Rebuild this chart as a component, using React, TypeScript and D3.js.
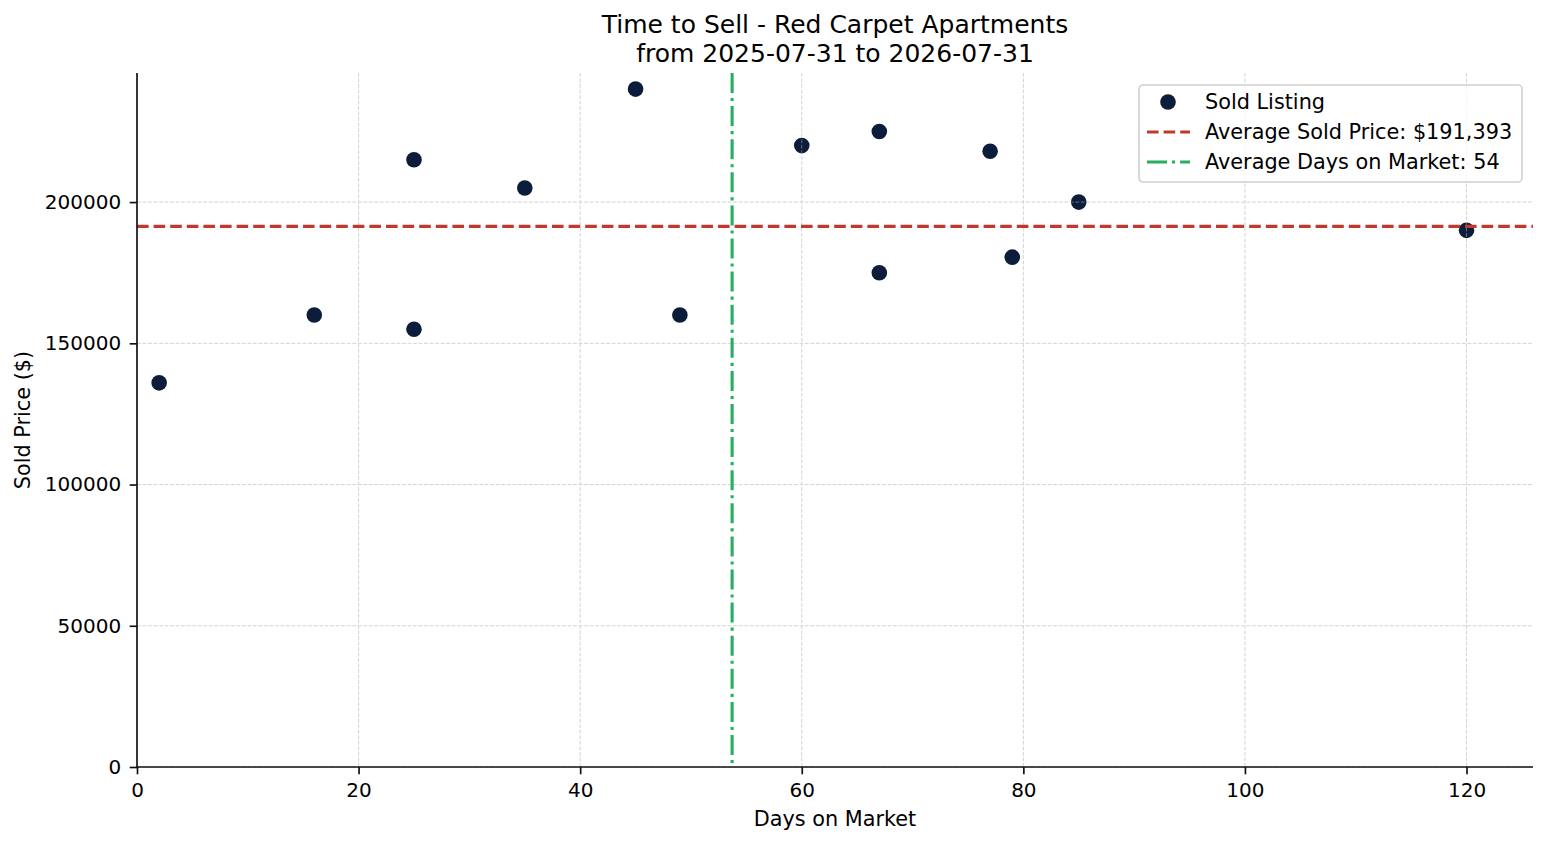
import React, { useEffect, useRef } from 'react';
import * as d3 from 'd3';

// Sold listings: days on market vs sold price
const daysOnMarket = [2, 16, 25, 25, 35, 45, 49, 60, 67, 67, 77, 79, 85, 120];
const soldPrices = [
  136000, 160000, 215000, 155000, 205000, 240000, 160000, 220000, 225000, 175000, 218000, 180500,
  200000, 190000,
];
const xTicks = [0, 20, 40, 60, 80, 100, 120];
const yTicks = [0, 50000, 100000, 150000, 200000];

const titleLines = ['Time to Sell - Red Carpet Apartments', 'from 2025-07-31 to 2026-07-31'];

const App: React.FC = () => {
  const svgRef = useRef<SVGSVGElement>(null);

  useEffect(() => {
    if (!svgRef.current) return;

    const width = 1547;
    const height = 845;
    const font = 'DejaVu Sans, sans-serif';
    const fs = 20.8; // 10pt at 150dpi
    const tickFs = 20;

    const svg = d3.select(svgRef.current).attr('width', width).attr('height', height);
    svg.selectAll('*').remove();

    const left = 137;
    const right = 1533;
    const top = 73;
    const bottom = 767;

    const x = d3.scaleLinear().domain([0, 126]).range([left, right]);
    const y = d3.scaleLinear().domain([0, 245700]).range([bottom, top]);

    const points = daysOnMarket.map((d, i) => ({ days: d, price: soldPrices[i] }));
    const avgPrice = d3.mean(soldPrices) as number;
    const avgDays = d3.mean(daysOnMarket) as number;

    const dashed = '11.6,5';
    const dashDot = '20,5,3.1,5';

    svg.append('rect').attr('width', width).attr('height', height).attr('fill', '#fff');

    // Scatter points
    svg
      .append('g')
      .selectAll('circle')
      .data(points)
      .enter()
      .append('circle')
      .attr('cx', (d) => x(d.days))
      .attr('cy', (d) => y(d.price))
      .attr('r', 7.8)
      .attr('fill', '#0b1d3a');

    // Grid (drawn over points, as in the reference)
    const grid = svg
      .append('g')
      .attr('stroke', '#b0b0b0')
      .attr('stroke-width', 1)
      .attr('stroke-dasharray', '3.85,1.67')
      .attr('opacity', 0.55);
    grid
      .selectAll('line.vx')
      .data(xTicks)
      .enter()
      .append('line')
      .attr('x1', (d) => x(d))
      .attr('x2', (d) => x(d))
      .attr('y1', top)
      .attr('y2', bottom);
    grid
      .selectAll('line.hy')
      .data(yTicks)
      .enter()
      .append('line')
      .attr('x1', left)
      .attr('x2', right)
      .attr('y1', (d) => y(d))
      .attr('y2', (d) => y(d));

    // Average lines
    svg
      .append('line')
      .attr('x1', left)
      .attr('x2', right)
      .attr('y1', y(avgPrice))
      .attr('y2', y(avgPrice))
      .attr('stroke', '#c0392b')
      .attr('stroke-width', 3.1)
      .attr('stroke-dasharray', dashed);
    svg
      .append('line')
      .attr('x1', x(avgDays))
      .attr('x2', x(avgDays))
      .attr('y1', top)
      .attr('y2', bottom)
      .attr('stroke', '#27ae60')
      .attr('stroke-width', 3.1)
      .attr('stroke-dasharray', dashDot);

    // Axes
    const xAxis = svg
      .append('g')
      .attr('transform', `translate(0,${bottom})`)
      .call(d3.axisBottom(x).tickValues(xTicks).tickSize(7.3).tickPadding(8.5).tickFormat(d3.format('d')));
    const yAxis = svg
      .append('g')
      .attr('transform', `translate(${left},0)`)
      .call(d3.axisLeft(y).tickValues(yTicks).tickSize(7.3).tickPadding(8.5).tickFormat(d3.format('d')));
    [xAxis, yAxis].forEach((ax) => {
      ax.select('.domain').attr('stroke', '#111').attr('stroke-width', 1.67);
      ax.selectAll('.tick line').attr('stroke', '#111').attr('stroke-width', 1.67);
      ax.selectAll('.tick text').attr('font-family', font).attr('font-size', tickFs).attr('fill', '#000');
    });
    // spines only, no outer tick caps
    xAxis.select('.domain').attr('d', `M${left},0H${right}`);
    yAxis.select('.domain').attr('d', `M0,${bottom}V${top}`);

    // Axis labels
    svg
      .append('text')
      .attr('x', (left + right) / 2)
      .attr('y', 826)
      .attr('text-anchor', 'middle')
      .attr('font-family', font)
      .attr('font-size', fs)
      .text('Days on Market');
    svg
      .append('text')
      .attr('transform', `translate(30,${(top + bottom) / 2}) rotate(-90)`)
      .attr('text-anchor', 'middle')
      .attr('font-family', font)
      .attr('font-size', fs)
      .text('Sold Price ($)');

    // Title
    svg
      .append('g')
      .selectAll('text')
      .data(titleLines)
      .enter()
      .append('text')
      .attr('x', (left + right) / 2)
      .attr('y', (d, i) => 33 + i * 28.5)
      .attr('text-anchor', 'middle')
      .attr('font-family', font)
      .attr('font-size', 25)
      .text((d) => d);

    // Legend
    const lg = svg.append('g').attr('transform', 'translate(1139,85)');
    lg.append('rect')
      .attr('width', 383)
      .attr('height', 97)
      .attr('rx', 4)
      .attr('fill', '#fff')
      .attr('fill-opacity', 0.8)
      .attr('stroke', '#d0d0d0')
      .attr('stroke-width', 1.6);
    const entries = [
      { label: 'Sold Listing', kind: 'dot' },
      { label: `Average Sold Price: $${d3.format(',')(Math.round(avgPrice))}`, kind: 'price' },
      { label: `Average Days on Market: ${Math.round(avgDays)}`, kind: 'days' },
    ];
    entries.forEach((e, i) => {
      const cy = 17 + i * 30;
      if (e.kind === 'dot') {
        lg.append('circle').attr('cx', 29).attr('cy', cy).attr('r', 7.8).attr('fill', '#0b1d3a');
      } else {
        lg.append('line')
          .attr('x1', 8)
          .attr('x2', 51)
          .attr('y1', cy)
          .attr('y2', cy)
          .attr('stroke', e.kind === 'price' ? '#c0392b' : '#27ae60')
          .attr('stroke-width', 3.1)
          .attr('stroke-dasharray', e.kind === 'price' ? dashed : dashDot);
      }
      lg.append('text')
        .attr('x', 66)
        .attr('y', cy)
        .attr('dy', '0.35em')
        .attr('font-family', font)
        .attr('font-size', fs)
        .text(e.label);
    });
  }, []);

  return (
    <div style={{ position: 'absolute', left: 0, top: 0 }}>
      <svg ref={svgRef} />
    </div>
  );
};

export default App;
